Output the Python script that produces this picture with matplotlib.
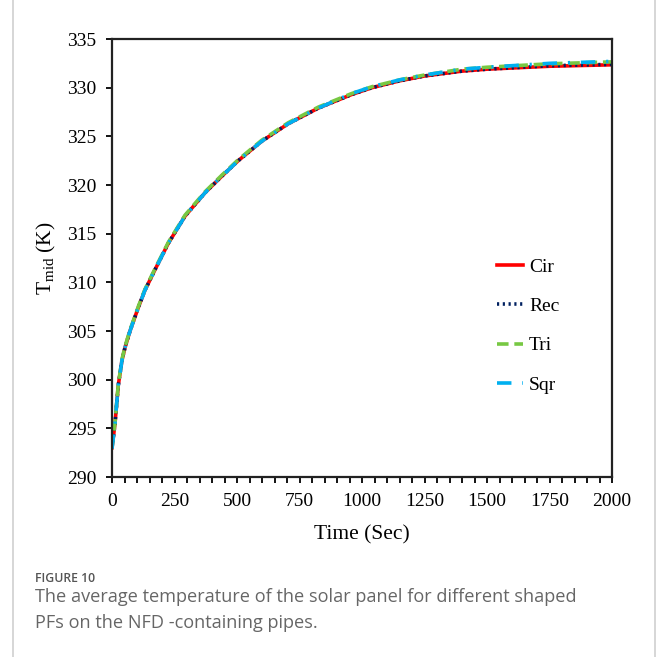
import matplotlib
matplotlib.use("Agg")
import matplotlib.pyplot as plt
from matplotlib.ticker import MultipleLocator
from matplotlib.lines import Line2D

# Time (s) and mid-panel temperature (K)
time_s = [0, 6, 12, 25, 40, 52, 72, 105, 132, 172, 225, 292, 372, 439, 505, 599, 705,
          825, 959, 1040, 1150, 1250, 1400, 1500, 1750, 2000]
t_cir = [293.0, 294.2, 295.5, 299.4, 302.0, 303.3, 305.0, 307.4, 309.2, 311.3, 314.0,
         316.8, 319.2, 320.9, 322.5, 324.5, 326.3, 327.9, 329.3, 330.0, 330.7, 331.2,
         331.7, 331.9, 332.2, 332.35]
t_rec = [293.0, 294.2, 295.5, 299.4, 302.0, 303.3, 305.0, 307.4, 309.2, 311.3, 314.0,
         316.8, 319.2, 320.9, 322.5, 324.5, 326.3, 327.9, 329.3, 330.0, 330.7, 331.2,
         331.7, 331.9, 332.25, 332.4]
t_tri = [293.0, 294.3, 295.6, 299.5, 302.1, 303.4, 305.1, 307.5, 309.3, 311.4, 314.1,
         316.9, 319.3, 321.0, 322.6, 324.6, 326.4, 328.0, 329.4, 330.1, 330.8, 331.3,
         331.9, 332.1, 332.45, 332.65]
t_sqr = [292.9, 294.2, 295.5, 299.4, 302.0, 303.3, 305.0, 307.4, 309.2, 311.3, 314.0,
         316.8, 319.2, 320.9, 322.5, 324.5, 326.3, 327.9, 329.4, 330.1, 330.8, 331.3,
         331.9, 332.1, 332.5, 332.7]
labels = ["Cir", "Rec", "Tri", "Sqr"]

plt.rcParams["font.family"] = "Liberation Serif"
plt.rcParams["mathtext.fontset"] = "custom"
plt.rcParams["mathtext.rm"] = "Liberation Serif"
plt.rcParams["mathtext.it"] = "Liberation Serif:italic"

fig = plt.figure(figsize=(6.58, 6.57), dpi=100)
ax = fig.add_axes([112 / 658, 1 - 477 / 657, 500 / 658, 438 / 657])

ax.plot(time_s, t_cir, color="#ff0000", lw=2.6, ls="-", label=labels[0])
ax.plot(time_s, t_rec, color="#002060", lw=2.6, ls=(0, (0.6, 1.0)), label=labels[1])
ax.plot(time_s, t_tri, color="#77c843", lw=2.6, ls=(0, (3.2, 1.6)), label=labels[2])
ax.plot(time_s, t_sqr, color="#00b0f0", lw=2.6, ls=(0, (4, 3, 0.6, 3)), label=labels[3])

ax.set_xlim(0, 2000)
ax.set_ylim(290, 335)
ax.xaxis.set_major_locator(MultipleLocator(250))
ax.xaxis.set_minor_locator(MultipleLocator(50))
ax.yaxis.set_major_locator(MultipleLocator(5))
ax.tick_params(axis="both", which="both", direction="out", length=4.5, width=1.3,
               labelsize=14, color="black")
ax.tick_params(axis="x", pad=7)
ax.tick_params(axis="y", pad=7)
for sp in ax.spines.values():
    sp.set_linewidth(1.6)
    sp.set_color("#222222")

ax.set_xlabel("Time (Sec)", fontsize=15.5, labelpad=11)
ax.set_ylabel(r"T$_{\mathrm{mid}}$ (K)", fontsize=15.5, labelpad=6)

ax.legend(loc="upper left", bbox_to_anchor=(0.735, 0.54), frameon=False,
          fontsize=14, handlelength=1.35, handletextpad=0.3, labelspacing=1.12)

# page decoration: light frame edges and caption
fig.add_artist(Line2D([13 / 658, 13 / 658], [0, 1], color="#d0d0d0", lw=1.2))
fig.add_artist(Line2D([655 / 658, 655 / 658], [0, 1], color="#d0d0d0", lw=1.2))
fig.text(35 / 658, 1 - 578 / 657, "FIGURE 10", fontsize=8.8, color="#555555",
         family="Open Sans", weight="semibold", va="center")
fig.text(35 / 658, 1 - 597 / 657,
         "The average temperature of the solar panel for different shaped",
         fontsize=13.1, color="#666666", family="Open Sans", va="center")
fig.text(35 / 658, 1 - 623 / 657, "PFs on the NFD -containing pipes.",
         fontsize=13.1, color="#666666", family="Open Sans", va="center")

fig.savefig("out.png", dpi=100)
